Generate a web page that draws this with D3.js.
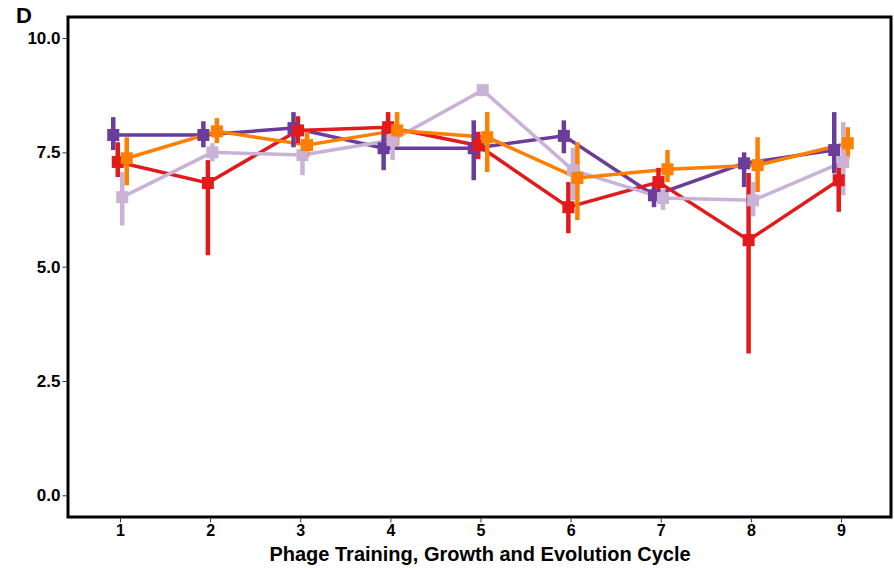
<!DOCTYPE html>
<html>
<head>
<meta charset="utf-8">
<script src="https://cdn.jsdelivr.net/npm/d3@7"></script>
<style>
  body { margin: 0; background: #fff; }
  text { font-family: "Liberation Sans", Arial, sans-serif; font-weight: bold; }
</style>
</head>
<body>
<script>
// Cycles on the x axis.
const cycles = [1, 2, 3, 4, 5, 6, 7, 8, 9];

// Y tick values.
const yTicks = [0, 2.5, 5, 7.5, 10];

// Series names, drawn in this order (also dodge order).
const seriesNames = ["purple", "red", "lilac", "orange"];
const seriesColors = ["#6a3d9a", "#e31a1c", "#cab2d6", "#ff7f00"];

// Means per cycle.
const purpleMean = [7.88, 7.88, 8.03, 7.59, 7.59, 7.86, 6.56, 7.26, 7.55];
const redMean    = [7.29, 6.83, 7.98, 8.05, 7.65, 6.30, 6.85, 5.58, 6.89];
const lilacMean  = [6.52, 7.50, 7.44, 7.77, 8.86, 7.11, 6.50, 6.45, 7.29];
const orangeMean = [7.37, 7.96, 7.66, 7.98, 7.83, 6.94, 7.13, 7.22, 7.70];

// Upper ends of error bars.
const purpleHi = [8.27, 8.18, 8.38, 8.05, 8.20, 8.20, 6.80, 7.50, 8.38];
const redHi    = [7.72, 7.33, 8.29, 8.38, 7.95, 6.85, 7.16, 7.05, 7.20];
const lilacHi  = [7.07, 7.70, 7.62, 8.00, 8.96, 7.60, 6.70, 6.85, 8.16];
const orangeHi = [7.83, 8.25, 7.95, 8.38, 8.38, 7.72, 7.55, 7.83, 8.05];

// Lower ends of error bars.
const purpleLo = [7.55, 7.61, 7.61, 7.11, 6.89, 7.48, 6.30, 6.74, 7.04];
const redLo    = [6.96, 5.25, 7.70, 7.75, 7.35, 5.73, 6.55, 3.10, 6.20];
const lilacLo  = [5.90, 7.30, 7.00, 7.33, 8.76, 6.45, 6.24, 6.10, 6.56];
const orangeLo = [6.78, 7.70, 7.40, 7.65, 7.07, 6.02, 6.85, 6.63, 7.37];

const means = [purpleMean, redMean, lilacMean, orangeMean];
const his = [purpleHi, redHi, lilacHi, orangeHi];
const los = [purpleLo, redLo, lilacLo, orangeLo];

// Dodge offsets in x units.
const dodge = [-0.075, -0.025, 0.025, 0.075];

const width = 894, height = 570;
const panel = { left: 68, right: 891, top: 17, bottom: 517 };

const svg = d3.select("body").append("svg")
    .attr("width", width)
    .attr("height", height);

const x = d3.scaleLinear().domain([0.423, 9.555]).range([panel.left, panel.right]);
const y = d3.scaleLinear().domain([-0.475, 10.46]).range([panel.bottom, panel.top]);

// Build records for each series.
const series = seriesNames.map((name, s) => ({
    name: name,
    color: seriesColors[s],
    points: cycles.map((c, i) => ({
        x: c + dodge[s],
        mean: means[s][i],
        hi: his[s][i],
        lo: los[s][i]
    }))
}));

const line = d3.line().x(d => x(d.x)).y(d => y(d.mean));

// Lines.
svg.append("g").selectAll("path")
    .data(series)
    .join("path")
    .attr("fill", "none")
    .attr("stroke", d => d.color)
    .attr("stroke-width", 3.5)
    .attr("d", d => line(d.points));

// Error bars.
series.forEach(s => {
    svg.append("g").selectAll("line")
        .data(s.points)
        .join("line")
        .attr("stroke", s.color)
        .attr("stroke-width", 4.5)
        .attr("x1", d => x(d.x))
        .attr("x2", d => x(d.x))
        .attr("y1", d => y(d.hi))
        .attr("y2", d => y(d.lo));
});

// Square points.
const sq = 12;
series.forEach(s => {
    svg.append("g").selectAll("rect")
        .data(s.points)
        .join("rect")
        .attr("fill", s.color)
        .attr("x", d => x(d.x) - sq / 2)
        .attr("y", d => y(d.mean) - sq / 2)
        .attr("width", sq)
        .attr("height", sq);
});

// Panel border.
svg.append("rect")
    .attr("x", panel.left)
    .attr("y", panel.top)
    .attr("width", panel.right - panel.left)
    .attr("height", panel.bottom - panel.top)
    .attr("fill", "none")
    .attr("stroke", "black")
    .attr("stroke-width", 3);

// Y axis.
const yAxis = svg.append("g")
    .attr("transform", `translate(${panel.left - 1.5},0)`)
    .call(d3.axisLeft(y).tickValues(yTicks).tickFormat(d3.format(".1f")).tickSize(4).tickPadding(2));
yAxis.select(".domain").remove();
yAxis.selectAll("text").attr("font-size", 17).attr("fill", "black")
    .style("font-family", "'Liberation Sans', Arial, sans-serif").style("font-weight", "bold");
yAxis.selectAll("line").attr("stroke", "#333");

// X axis.
const xAxis = svg.append("g")
    .attr("transform", `translate(0,${panel.bottom + 1.5})`)
    .call(d3.axisBottom(x).tickValues(cycles).tickFormat(d3.format("d")).tickSize(4).tickPadding(2));
xAxis.select(".domain").remove();
xAxis.selectAll("text").attr("font-size", 16).attr("fill", "black")
    .style("font-family", "'Liberation Sans', Arial, sans-serif").style("font-weight", "bold");
xAxis.selectAll("line").attr("stroke", "#333");

// X title.
svg.append("text")
    .attr("x", 480)
    .attr("y", 561)
    .attr("text-anchor", "middle")
    .attr("font-size", 20)
    .text("Phage Training, Growth and Evolution Cycle");

// Panel tag.
svg.append("text")
    .attr("x", 16)
    .attr("y", 23)
    .attr("font-size", 22)
    .text("D");
</script>
</body>
</html>
